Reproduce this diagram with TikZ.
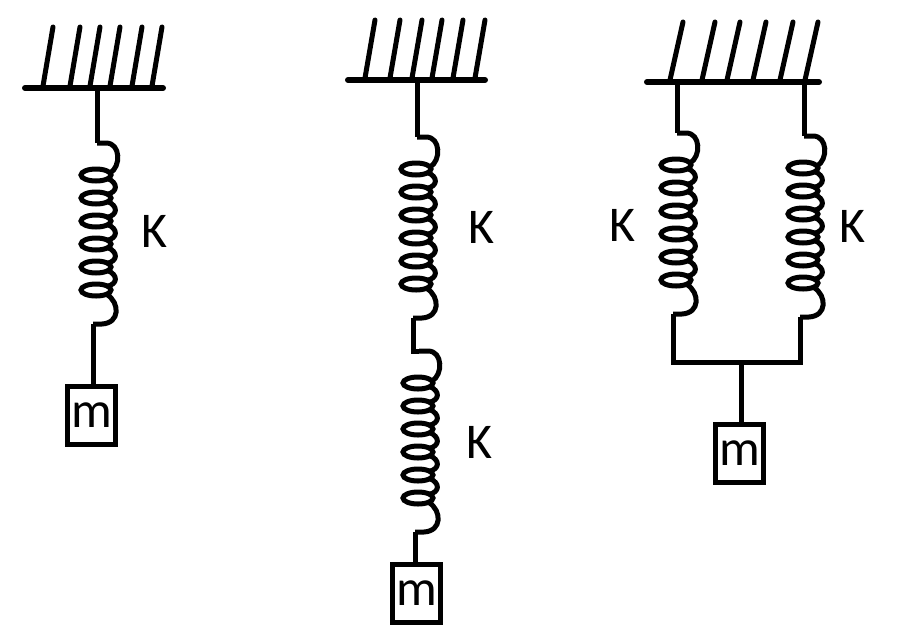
\documentclass[tikz,border=0pt]{standalone}
\usepackage{fontspec}
\setmainfont{Carlito}
\begin{document}
\begin{tikzpicture}[x=1pt, y=-1pt, line width=5pt,
    wall/.style={line width=6pt, line cap=round},
    hatch/.style={line width=5pt, line cap=round},
    massbox/.style={draw, minimum width=48pt, minimum height=58pt, inner sep=0pt, font=\fontsize{51}{56}\selectfont},
    klabel/.style={inner sep=0pt, font=\fontsize{50}{56}\selectfont},
    springcoil/.pic={
        \coordinate (-top) at (1,-32);
        \coordinate (-bot) at (-3,149);
        \draw (-top) -- (10,-32) .. controls (25,-32) and (25,-8) .. (14,-2);
        \foreach \i in {0,...,5} \draw (0,\i*23) ellipse [x radius=15pt, y radius=6pt];
        \foreach \i in {0,...,4} \draw (12,\i*23+3.6) .. controls (22,\i*23+8) and (22,\i*23+17) .. (11,\i*23+19.4);
        \draw (11,119.5) .. controls (24,128) and (24,148) .. (6,149) -- (-bot);
    }]
\useasboundingbox (0,0) rectangle (900,641);

% one spring
\draw[wall] (25,88) -- (163,88);
\draw[hatch] (43,86) -- (53,27);
\draw[hatch] (70,86) -- (80,27);
\draw[hatch] (90,86) -- (100,27);
\draw[hatch] (110,86) -- (120,27);
\draw[hatch] (132,86) -- (142,27);
\draw[hatch] (152,86) -- (162,27);
\coordinate (w1) at (94,88);
\pic (s1) at (96,175) {springcoil};
\node[klabel] (k1) at (154,231) {K};
\node[massbox] (m1) at (91.5,415) {m};
\draw (w1 -| s1-top) -- (s1-top);
\draw (s1-bot) -- (s1-bot |- m1.north);

% two springs in series
\draw[wall] (348,80) -- (485,80);
\draw[hatch] (365,78) -- (375,20);
\draw[hatch] (390,78) -- (400,20);
\draw[hatch] (412,78) -- (422,20);
\draw[hatch] (432,78) -- (442,20);
\draw[hatch] (453,78) -- (463,20);
\draw[hatch] (475,78) -- (485,20);
\coordinate (w2) at (417,80);
\pic (s2a) at (416,169) {springcoil};
\pic (s2b) at (418,383) {springcoil};
\node[klabel] (k2a) at (481,227) {K};
\node[klabel] (k2b) at (479,442) {K};
\node[massbox] (m2) at (416.5,593.5) {m};
\draw (w2 -| s2a-top) -- (s2a-top);
\draw (s2a-bot) |- (s2b-top);
\draw (s2b-bot) -- (s2b-bot |- m2.north);

% two springs in parallel
\draw[wall] (647,82) -- (819,82);
\draw[hatch] (670,80) -- (683,22);
\draw[hatch] (702,80) -- (715,22);
\draw[hatch] (727,80) -- (740,22);
\draw[hatch] (753,80) -- (766,22);
\draw[hatch] (780,80) -- (793,22);
\draw[hatch] (805,80) -- (818,22);
\coordinate (w3) at (741,82);
\coordinate (bar3) at (741,362);
\pic (s3a) at (676,165) {springcoil};
\pic (s3b) at (803,168) {springcoil};
\node[klabel] (k3a) at (622,225) {K};
\node[klabel] (k3b) at (852,226) {K};
\node[massbox] (m3) at (739.5,453.5) {m};
\draw (w3 -| s3a-top) -- (s3a-top);
\draw (w3 -| s3b-top) -- (s3b-top);
\draw (s3a-bot) |- (bar3) -| (s3b-bot);
\draw (bar3) -- (bar3 |- m3.north);
\end{tikzpicture}
\end{document}
